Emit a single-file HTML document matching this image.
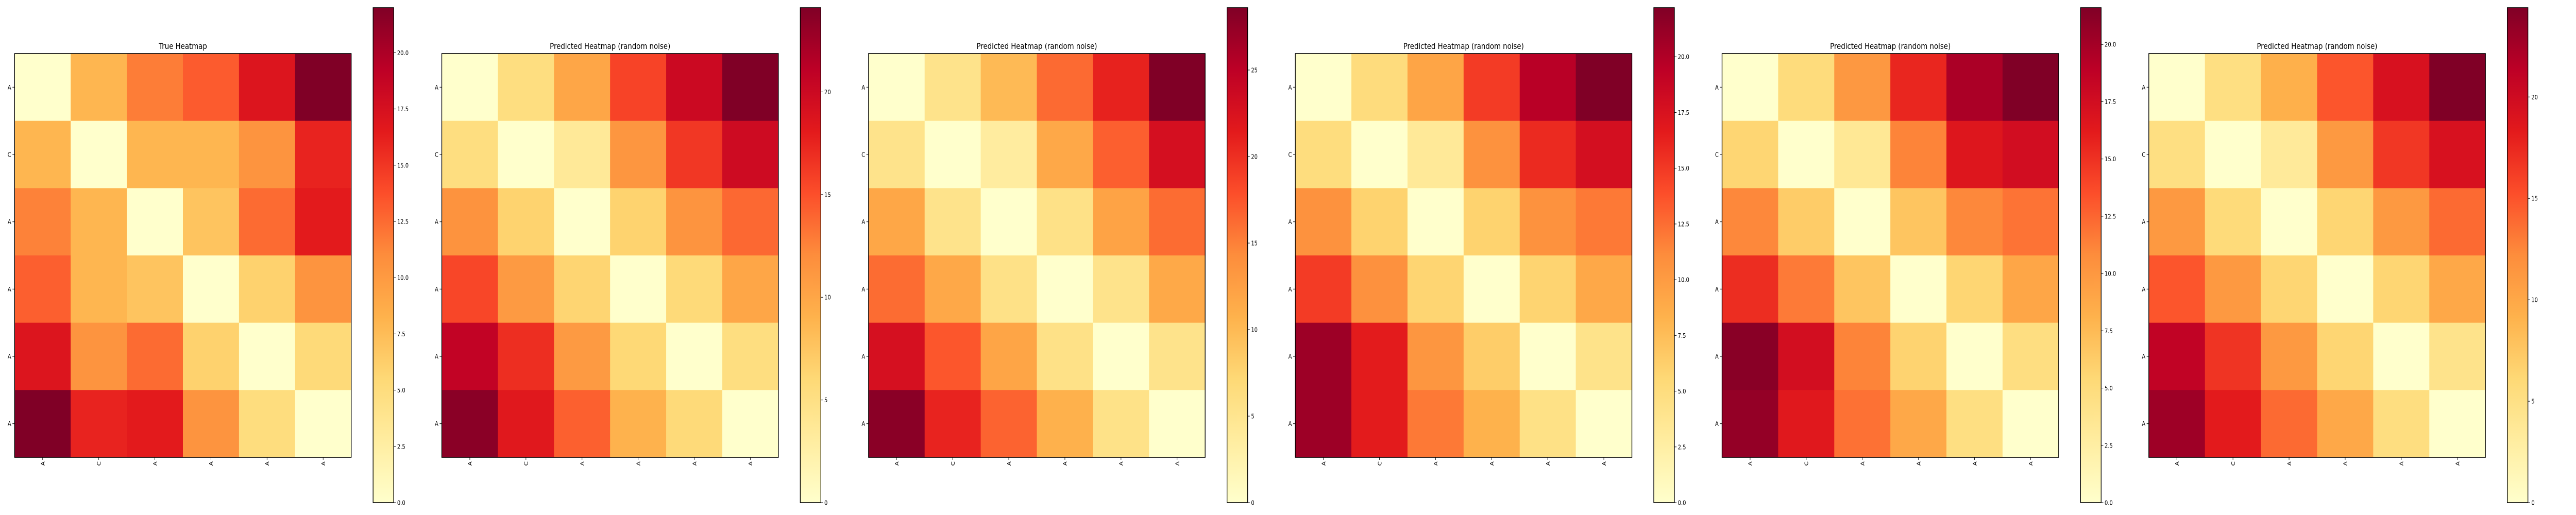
<!DOCTYPE html>
<html><head><meta charset="utf-8"><style>
html,body{margin:0;padding:0;background:#fff;width:100%;height:100%;overflow:hidden;}
svg{display:block;width:100vw;height:100vh;font-family:"DejaVu Sans","Liberation Sans",sans-serif;}
</style></head><body>
<svg id="chart" xmlns="http://www.w3.org/2000/svg" viewBox="0 0 6000 1000" preserveAspectRatio="none">
<defs>
<linearGradient id="ylorrd" x1="0" y1="1" x2="0" y2="0">
<stop offset="0" stop-color="#ffffcc"/><stop offset="0.125" stop-color="#ffeda0"/><stop offset="0.25" stop-color="#fed976"/><stop offset="0.375" stop-color="#feb24c"/><stop offset="0.5" stop-color="#fd8d3c"/><stop offset="0.625" stop-color="#fc4e2a"/><stop offset="0.75" stop-color="#e31a1c"/><stop offset="0.875" stop-color="#bd0026"/><stop offset="1" stop-color="#800026"/>
</linearGradient>
</defs>
</svg>
<script>
const rowLabels = ["A","C","A","A","A","A"];
const colLabels = ["A","C","A","A","A","A"];
const titles = ["True Heatmap","Predicted Heatmap (random noise)","Predicted Heatmap (random noise)","Predicted Heatmap (random noise)","Predicted Heatmap (random noise)","Predicted Heatmap (random noise)"];
const vmaxes = [22, 24.1, 28.6, 22.2, 21.6, 24.4];
const cbarTicks = [[0,2.5,5,7.5,10,12.5,15,17.5,20],[0,5,10,15,20],[0,5,10,15,20,25],[0,2.5,5,7.5,10,12.5,15,17.5,20],[0,2.5,5,7.5,10,12.5,15,17.5,20],[0,5,10,15,20]];
const cbarDecimals = [1,0,0,1,1,0];
const heatTrue = [
[0,8,11.7,13.2,17,22],
[8,0,8,8,10.5,16],
[11.5,8,0,7,12.5,16.5],
[13,8,7,0,6,10.5],
[17,10.5,12.5,6,0,5.3],
[22,16,16.5,10.5,5,0]];
const heatPred1 = [
[0,5.3,10,15.7,20,24.1],
[5.3,0,3.6,11.3,16.4,19.8],
[11.6,6.5,0,6.5,11.5,13.8],
[15.5,11,6.3,0,5.8,10],
[20.7,16.9,11,6,0,5.3],
[23.6,18.3,14.2,9,5.8,0]];
const heatPred2 = [
[0,5.4,10,16.3,20.9,28.6],
[5.4,0,3.7,11.7,16.9,22.9],
[11.8,5.4,0,5.7,12.2,16.2],
[16.2,11.7,5.7,0,5.4,11.6],
[22.8,17.4,12,5.7,0,5.4],
[28,20.8,16.7,10.8,5.6,0]];
const heatPred3 = [
[0,5.1,9.3,14.9,19.6,22.2],
[5,0,3.3,10.7,15.8,17.8],
[10.7,6,0,6,10.7,12],
[14.9,10.8,5.8,0,5.9,9.1],
[20.9,16.6,10.4,6.4,0,4.2],
[20.9,16.6,12,8.3,4.5,0]];
const heatPred4 = [
[0,5,10,15.6,19.7,21.6],
[5.6,0,3.4,11.2,16.6,17.5],
[11,6.3,0,6.8,11,11.9],
[15.2,11.6,6.8,0,5.6,9],
[21.2,17.4,11.2,5.8,0,4.7],
[20.7,16.4,12,8.8,4.6,0]];
const heatPred5 = [
[0,5.2,9.3,14.9,19.3,24.4],
[5.2,0,3.5,11.2,16.6,19.3],
[11.2,5.8,0,6.3,11.2,13.9],
[14.9,11.2,6.3,0,6.3,10],
[21,16.8,11.2,6.3,0,4.6],
[22.9,18.3,13.9,10,5.4,0]];
const matrices = [heatTrue,heatPred1,heatPred2,heatPred3,heatPred4,heatPred5];

const NS = "http://www.w3.org/2000/svg";
const svg = document.getElementById("chart");
const stops = [[255,255,204],[255,237,160],[254,217,118],[254,178,76],[253,141,60],[252,78,42],[227,26,28],[189,0,38],[128,0,38]];
function cmap(t){
  t = Math.max(0, Math.min(1, t));
  const p = t*8, i = Math.min(7, Math.floor(p)), f = p - i;
  const a = stops[i], b = stops[i+1];
  return "rgb(" + a.map((v,k)=>Math.round(v+(b[k]-v)*f)).join(",") + ")";
}
function mk(tag, attrs, parent){
  const e = document.createElementNS(NS, tag);
  for (const k in attrs) e.setAttribute(k, attrs[k]);
  parent.appendChild(e);
  return e;
}
const panelLefts = [34,1029,2023,3017,4011,5005];
const HM = 784, TOP = 104, CB_TOP = 15, CB_BOT = 976, CB_W = 48, CB_OFF = 835;

matrices.forEach((mat, p) => {
  const g = mk("g", {}, svg);
  
  
  const x0 = panelLefts[p];
  const n = mat.length;
  const cw = HM / n;
  const xScale = j => x0 + j*cw;
  const yScale = i => TOP + i*cw;
  const vmax = vmaxes[p];
  mat.forEach((row, i) => row.forEach((v, j) => {
    const r = mk("rect", {x: xScale(j), y: yScale(i), width: cw+0.6, height: cw+0.6, fill: cmap(v / vmax)}, g);
    
    
  }));
  const fr = mk("rect", {x: x0, y: TOP, width: HM, height: HM, fill: "none", stroke: "#000", "stroke-width": 1.6}, g);
  
  
  const t = mk("text", {x: x0 + HM/2, y: 95, "text-anchor": "middle", "font-size": 16, fill: "#000"}, g);
  t.textContent = titles[p];
  
  
  rowLabels.forEach((lab, i) => {
    const y = yScale(i) + cw/2;
    mk("line", {x1: x0-5, x2: x0, y1: y, y2: y, stroke: "#000", "stroke-width": 1}, g);
    const tx = mk("text", {x: x0-8, y: y+4.5, "text-anchor": "end", "font-size": 12, fill: "#000"}, g);
    tx.textContent = lab;
    
    
  });
  colLabels.forEach((lab, j) => {
    const x = xScale(j) + cw/2;
    mk("line", {x1: x, x2: x, y1: TOP+HM, y2: TOP+HM+5, stroke: "#000", "stroke-width": 1}, g);
    const tx = mk("text", {x: 0, y: 0, "text-anchor": "end", "font-size": 12, fill: "#000", transform: "translate(" + (x+4.5) + "," + (TOP+HM+8) + ") rotate(-90)"}, g);
    tx.textContent = lab;
    
    
  });
  const cx = x0 + CB_OFF;
  const cb = mk("rect", {x: cx, y: CB_TOP, width: CB_W, height: CB_BOT-CB_TOP, fill: "url(#ylorrd)", stroke: "#000", "stroke-width": 1.6}, g);
  
  
  const cbY = v => CB_BOT - (v / vmax) * (CB_BOT - CB_TOP);
  cbarTicks[p].forEach(v => {
    const y = cbY(v);
    mk("line", {x1: cx+CB_W, x2: cx+CB_W+5, y1: y, y2: y, stroke: "#000", "stroke-width": 1}, g);
    const tx = mk("text", {x: cx+CB_W+8, y: y+4.5, "font-size": 12, fill: "#000"}, g);
    tx.textContent = v.toFixed(cbarDecimals[p]);
    
    
  });
});
</script>
</body></html>
